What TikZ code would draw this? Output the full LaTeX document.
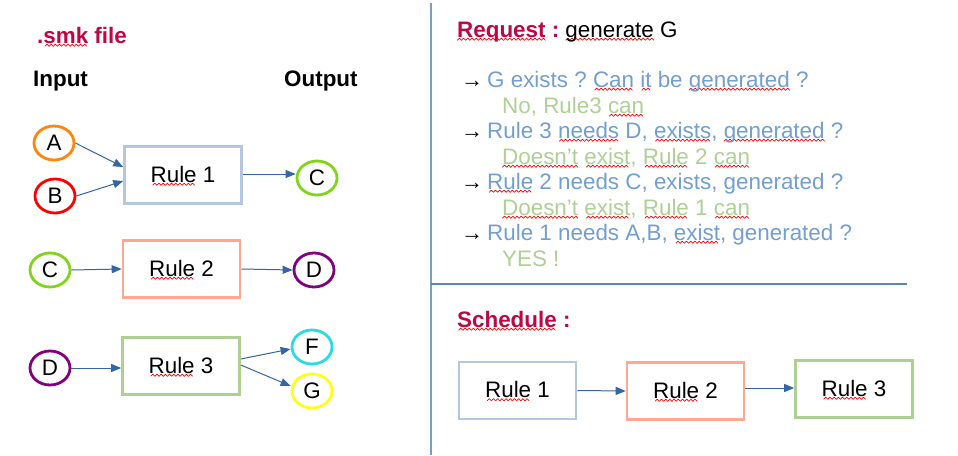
\documentclass[tikz,border=0pt]{standalone}
\usepackage{fontspec}
\setmainfont{Liberation Sans}
\usetikzlibrary{arrows.meta,shapes.geometric}
\frenchspacing
\newsavebox\sqbox
\newsavebox\sqtile
\sbox\sqtile{\tikz[x=1pt,y=1pt]{\useasboundingbox (0,0) rectangle (4.2,0);
  \draw[red,line width=0.7pt,line join=round] (0,-1.1) -- (2.1,1.1) -- (4.2,-1.1);}}
\newcommand\sqw[1]{\sbox\sqbox{#1}\rlap{\lower2.2pt\hbox to\wd\sqbox{\cleaders\copy\sqtile\hfil}}\usebox\sqbox}
\newcommand\fsz{\fontsize{22.4}{26}\selectfont\frenchspacing}
\definecolor{hdred}{RGB}{190,8,70}
\definecolor{qblue}{HTML}{729FCF}
\definecolor{agreen}{HTML}{AFD095}
\definecolor{arrowblue}{HTML}{3465A4}
\definecolor{boxone}{HTML}{B4C7DC}
\definecolor{boxtwo}{RGB}{255,168,145}
\definecolor{boxthree}{HTML}{AFD095}
\definecolor{ellorange}{HTML}{FF860D}
\definecolor{ellred}{HTML}{FF0000}
\definecolor{ellgreen}{HTML}{81D41A}
\definecolor{ellpurple}{HTML}{800080}
\definecolor{ellcyan}{RGB}{40,220,228}
\definecolor{ellyellow}{RGB}{255,255,30}
\definecolor{vline}{HTML}{729FCF}
\definecolor{hline}{HTML}{5B85C0}
\begin{document}
\begin{tikzpicture}[x=1pt,y=-1pt,
  every node/.style={font=\fsz, inner sep=0pt},
  txt/.style={anchor=base west},
  ell/.style={ellipse, draw, line width=2.8pt, minimum width=40pt, minimum height=34pt},
  rulebox/.style={draw, line width=2.6pt, minimum width=117pt, minimum height=57pt},
  arr/.style={draw=arrowblue, line width=1pt, -{Triangle[length=10pt,width=8pt]}},
  arrfont/.style={font=\fontsize{22}{24}\selectfont}
  ]
\useasboundingbox (0,0) rectangle (958,455);
% left panel
\node[txt,text=hdred] (smk) at (37,43) {\bfseries .\sqw{smk} file};
\node[txt] (inp) at (33,86) {\bfseries Input};
\node[txt] (outp) at (284,86) {\bfseries Output};

\node[ell,draw=ellorange] (A) at (54,143) {A};
\node[ell,draw=ellred] (B) at (55,196) {B};
\node[rulebox,draw=boxone] (r1) at (183,175) {\sqw{Rule} 1};
\node[ell,draw=ellgreen] (C1) at (317,178) {C};

\node[ell,draw=ellgreen] (C2) at (50,270) {C};
\node[rulebox,draw=boxtwo] (r2) at (181.5,269) {\sqw{Rule} 2};
\node[ell,draw=ellpurple] (D2) at (314,270) {D};

\node[ell,draw=ellpurple] (D3) at (50,368) {D};
\node[rulebox,draw=boxthree] (r3) at (181,366) {\sqw{Rule} 3};
\node[ell,draw=ellcyan] (F) at (312,347) {F};
\node[ell,draw=ellyellow] (G) at (312,391) {G};

\draw[arr] (A.east) -- ([yshift=8pt]r1.west);
\draw[arr] (B.east) -- ([yshift=-6pt]r1.west);
\draw[arr] ([yshift=1pt]r1.east) -- ([yshift=1pt]r1.east -| C1.west);
\draw[arr] (C2.east) -- (r2.west);
\draw[arr] (r2.east) -- (D2.west);
\draw[arr] (D3.east) -- (D3.east -| r3.west);
\draw[arr] ([yshift=7pt]r3.east) -- ([yshift=-2pt]F.west);
\draw[arr] ([yshift=1pt]r3.east) -- ([yshift=5pt]G.west);

% dividers
\draw[draw=vline, line width=1.3pt] (431,3) -- (431,455);
\draw[draw=hline, line width=1.5pt] (431,284) -- (907,284);

% right panel
\node[txt] (req) at (457,37) {{\color{hdred}\bfseries\sqw{Request} :} \sqw{generate} G};

\node[txt,arrfont] (a1) at (461,87) {→};
\node[txt,text=qblue] (l1) at (487,87) {G exists ? \sqw{Can} \sqw{it} be \sqw{generated} ?};
\node[txt,text=agreen] (l2) at (502,113) {No, Rule3 \sqw{can}};
\node[txt,arrfont] (a3) at (461,138) {→};
\node[txt,text=qblue] (l3) at (487,138) {Rule 3 \sqw{needs} D, \sqw{exists}, \sqw{generated} ?};
\node[txt,text=agreen] (l4) at (502,164) {\sqw{Doesn’t} \sqw{exist}, \sqw{Rule} 2 \sqw{can}};
\node[txt,arrfont] (a5) at (461,189) {→};
\node[txt,text=qblue] (l5) at (487,189) {\sqw{Rule} 2 needs C, exists, generated ?};
\node[txt,text=agreen] (l6) at (502,215) {\sqw{Doesn’t} \sqw{exist}, \sqw{Rule} 1 \sqw{can}};
\node[txt,arrfont] (a7) at (461,240) {→};
\node[txt,text=qblue] (l7) at (487,240) {Rule 1 needs A,B, \sqw{exist}, generated ?};
\node[txt,text=agreen] (l8) at (502,266) {YES !};

\node[txt,text=hdred] (sch) at (457,327) {\bfseries\sqw{Schedule} :};
\node[rulebox,draw=boxone] (s1) at (517.5,390.5) {\sqw{Rule} 1};
\node[rulebox,draw=boxtwo] (s2) at (685.5,391) {\sqw{Rule} 2};
\node[rulebox,draw=boxthree] (s3) at (854,389) {\sqw{Rule} 3};
\draw[arr] (s1.east) -- (s2.west);
\draw[arr] ([yshift=3pt]s2.east) -- ([yshift=3pt]s2.east -| s3.west);
\end{tikzpicture}
\end{document}
